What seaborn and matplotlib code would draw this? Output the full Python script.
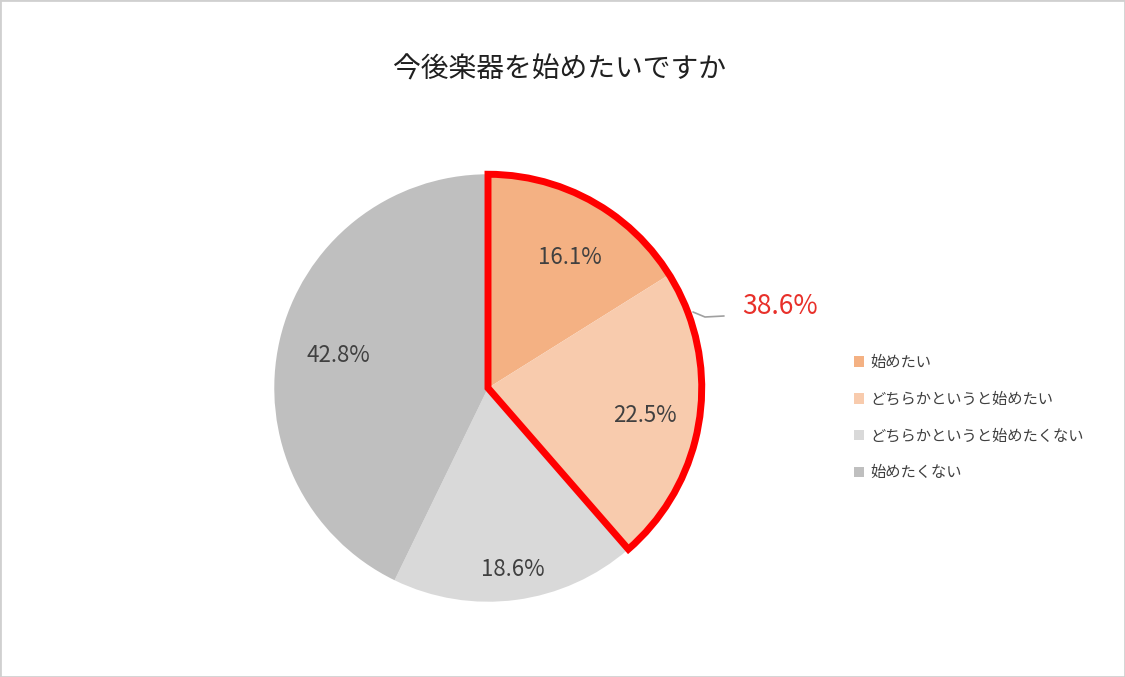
import matplotlib
matplotlib.use("Agg")
import matplotlib.pyplot as plt
import seaborn as sns
from matplotlib.patches import Wedge, Rectangle, Patch

sns.set_theme(style="white")
plt.rcParams['font.family'] = ['Noto Sans CJK JP', 'DejaVu Sans']

title = "今後楽器を始めたいですか"
categories = ["始めたい", "どちらかというと始めたい", "どちらかというと始めたくない", "始めたくない"]
values = [16.1, 22.5, 18.6, 42.8]
colors = ["#F4B183", "#F8CBAD", "#D9D9D9", "#BFBFBF"]
total_label = "38.6%"

W, H = 1125, 677
fig = plt.figure(figsize=(W/100, H/100), dpi=100)
fig.patches.append(Rectangle((0, 0), 1, 1, transform=fig.transFigure, fill=False,
                             edgecolor="#D0D0D0", lw=2))
cx, cy, r = 488, 388, 218
ax = fig.add_axes([(cx-r)/W, (H-cy-r)/H, 2*r/W, 2*r/H])
wedges, _ = ax.pie(values, colors=colors, startangle=90, counterclock=False,
                   radius=1, wedgeprops=dict(linewidth=0))
ax.set_xlim(-1.02, 1.02); ax.set_ylim(-1.02, 1.02)
ax.set_aspect("equal"); ax.axis("off")

frac = (values[0]+values[1])/sum(values)
ax.add_patch(Wedge((0, 0), 1, 90-360*frac, 90, fill=False, edgecolor="#FF0000",
                   lw=5, joinstyle="miter", zorder=5))

def px(x, y):
    return x/W, 1-y/H

label_pos = [(570, 258), (645, 415), (513, 570), (338, 355)]
for v, (x, y) in zip(values, label_pos):
    fig.text(*px(x, y), f"{v}%", ha="center", va="center", fontsize=16, color="#404040")

fig.add_artist(plt.Line2D([693/W, 705/W, 724/W], [1-312/H, 1-317/H, 1-316/H],
                          color="#A0A0A0", lw=1.2, transform=fig.transFigure))
fig.text(*px(780, 306), total_label, ha="center", va="center", fontsize=19, color="#E8302A")

fig.text(*px(560, 70), title, ha="center", va="center", fontsize=20, color="#202020")

handles = [Patch(facecolor=c, edgecolor="none") for c in colors]
fig.legend(handles, categories, loc="upper left", bbox_to_anchor=(840/W, 1-340/H),
           frameon=False, fontsize=11, handlelength=0.7, handleheight=0.7,
           labelspacing=1.3, handletextpad=0.4, labelcolor="#404040")

fig.savefig("out.png", dpi=100)
